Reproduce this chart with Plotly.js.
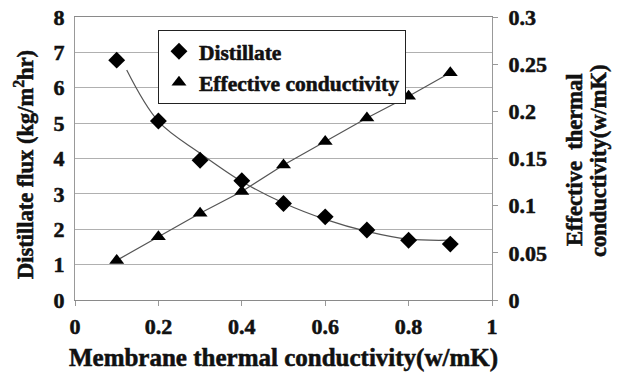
<!DOCTYPE html>
<html>
<head>
<meta charset="utf-8">
<script src="https://cdn.plot.ly/plotly-3.0.1.min.js"></script>
<style>html,body{margin:0;padding:0;background:#fff;}#chart{width:618px;height:376px;}
#chart text{font-weight:bold !important; stroke:#111; stroke-width:0.55px;}</style>
</head>
<body>
<div id="chart"></div>
<script>
// Membrane thermal conductivity (w/mK)
var membraneK = [0.1, 0.2, 0.3, 0.4, 0.5, 0.6, 0.7, 0.8, 0.9];
// Distillate flux (kg/m2hr)
var distillate = [6.78, 5.06, 3.95, 3.37, 2.73, 2.35, 1.98, 1.69, 1.58];
// Effective thermal conductivity (w/mK)
var effectiveK = [0.042, 0.067, 0.092, 0.115, 0.143, 0.168, 0.193, 0.216, 0.241];
// Trendline of distillate flux
var trendX = [0.124, 0.2, 0.3, 0.4, 0.5, 0.6, 0.7, 0.8, 0.9];
var trendY = [6.50, 5.05, 4.15, 3.35, 2.74, 2.28, 1.94, 1.72, 1.69];
// Axis titles
var xTitle = 'Membrane thermal conductivity(w/mK)';
var yLeftTitle = 'Distillate flux (kg/m<sup>2</sup>hr)';
var yRightTitle = ['Effective  thermal', 'conductivity(w/mK)'];

var serif = 'Liberation Serif, Times New Roman, serif';
var lineCol = '#555555';

var traces = [
  {x: trendX, y: trendY, mode: 'lines', line: {color: lineCol, width: 1.2, shape: 'spline'},
   showlegend: false, hoverinfo: 'skip'},
  {x: membraneK, y: effectiveK, yaxis: 'y2', mode: 'lines', line: {color: lineCol, width: 1.2},
   showlegend: false, hoverinfo: 'skip'},
  {x: membraneK, y: distillate, mode: 'markers', name: '<b>Distillate</b>',
   marker: {symbol: 'diamond', size: 13, color: '#000'}},
  {x: membraneK, y: effectiveK, yaxis: 'y2', mode: 'markers', name: '<b>Effective conductivity</b>',
   marker: {symbol: 'triangle-up', size: 13, color: '#000'}}
];

var titleFont = {family: serif, size: 22.5, color: '#111'};

var layout = {
  width: 618, height: 376,
  margin: {l: 75, r: 126, t: 17, b: 76},
  paper_bgcolor: '#fff', plot_bgcolor: '#fff',
  font: {family: serif, size: 21, color: '#111'},
  showlegend: true,
  legend: {x: 0.199, y: 0.955, xanchor: 'left', yanchor: 'top',
           bgcolor: '#fff', bordercolor: '#222', borderwidth: 1,
           font: {family: serif, size: 21.5, color: '#111'},
           itemwidth: 30, tracegroupgap: 4},
  xaxis: {
    range: [0, 1], dtick: 0.2, tick0: 0,
    showgrid: false, zeroline: false,
    showline: true, linecolor: '#8a8a8a', linewidth: 1, mirror: true,
    ticks: 'outside', ticklen: 5, tickcolor: '#999',
    ticklabelstandoff: 2,
    tickfont: {family: serif, size: 22, color: '#111'},
    title: {text: '<b>' + xTitle + '</b>', standoff: 10,
            font: {family: serif, size: 25, color: '#111'}}
  },
  yaxis: {
    range: [0, 8], dtick: 1,
    showgrid: true, gridcolor: '#b0b0b0', gridwidth: 1, zeroline: false,
    showline: true, linecolor: '#999', linewidth: 1,
    ticks: '', ticklen: 0, ticklabelstandoff: 5,
    tickfont: {family: serif, size: 22, color: '#111'}
  },
  yaxis2: {
    overlaying: 'y', side: 'right',
    range: [0, 0.3], dtick: 0.05,
    showgrid: false, zeroline: false,
    showline: true, linecolor: '#999', linewidth: 1,
    ticks: 'outside', ticklen: 5, tickcolor: '#999', ticklabelstandoff: 6,
    tickfont: {family: serif, size: 22, color: '#111'}
  },
  annotations: [
    {text: '<b>' + yLeftTitle + '</b>', xref: 'paper', yref: 'paper',
     x: -0.1223, y: 0.477, xanchor: 'center', yanchor: 'middle',
     textangle: -90, showarrow: false, font: titleFont},
    {text: '<b>' + yRightTitle[0] + '</b>', xref: 'paper', yref: 'paper',
     x: 1.199, y: 0.495, xanchor: 'center', yanchor: 'middle',
     textangle: -90, showarrow: false, font: titleFont},
    {text: '<b>' + yRightTitle[1] + '</b>', xref: 'paper', yref: 'paper',
     x: 1.254, y: 0.491, xanchor: 'center', yanchor: 'middle',
     textangle: -90, showarrow: false, font: titleFont}
  ]
};

Plotly.newPlot('chart', traces, layout, {displayModeBar: false, staticPlot: true});
</script>
</body>
</html>
